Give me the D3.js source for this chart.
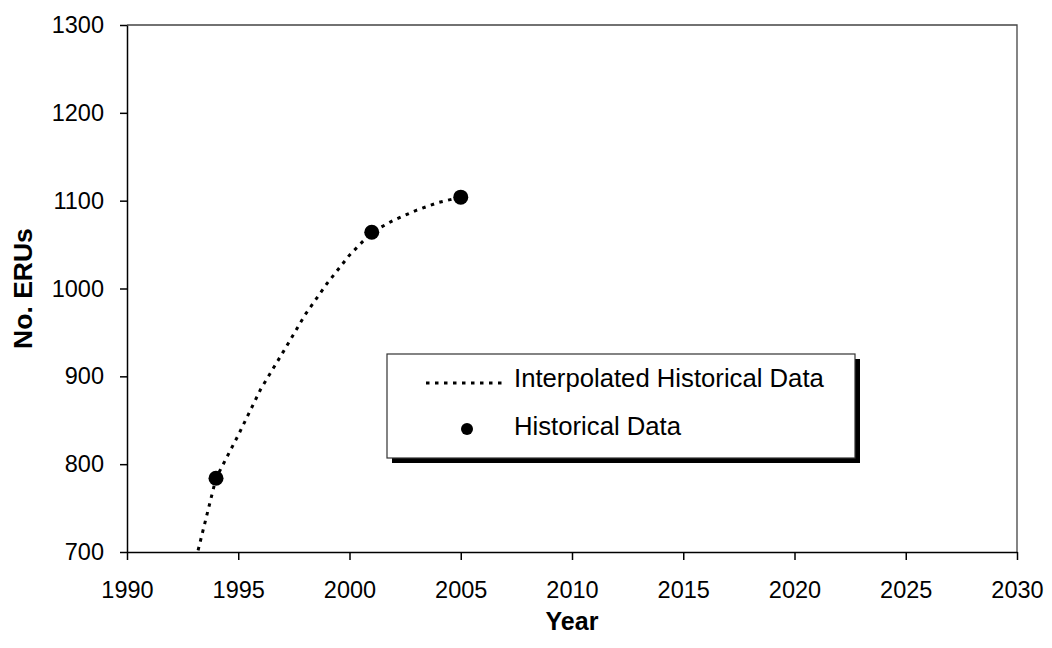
<!DOCTYPE html>
<html>
<head>
<meta charset="utf-8">
<script src="https://cdn.jsdelivr.net/npm/d3@7"></script>
<style>
  body { margin: 0; background: #fff; }
  text { font-family: "Liberation Sans", Arial, sans-serif; fill: #000; }
</style>
</head>
<body>
<script>
// interpolated yearly values
const interpYears = [1993, 1994, 1995, 1996, 1997, 1998, 1999, 2000, 2001, 2002, 2003, 2004, 2005];
const interpValues = [682, 784, 833, 885, 927, 970, 1006, 1038, 1064, 1078, 1089, 1098, 1104];

// historical observations
const histYears = [1994, 2001, 2005];
const histValues = [784, 1064, 1104];

const xTicks = [1990, 1995, 2000, 2005, 2010, 2015, 2020, 2025, 2030];
const yTicks = [700, 800, 900, 1000, 1100, 1200, 1300];

const width = 1052, height = 648;
const margin = {top: 25, right: 35, bottom: 96, left: 127};
const font = "Liberation Sans, Arial, sans-serif";

const svg = d3.select("body").append("svg")
    .attr("width", width)
    .attr("height", height);

const x = d3.scaleLinear()
    .domain([1990, 2030])
    .range([margin.left, width - margin.right]);

const y = d3.scaleLinear()
    .domain([700, 1300])
    .range([height - margin.bottom, margin.top]);

// frame top/right
svg.append("path")
    .attr("d", `M${x(1990)},${y(1300)}H${x(2030)}V${y(700)}`)
    .attr("fill", "none")
    .attr("stroke", "#444")
    .attr("stroke-width", 1.3);

const xAxis = g => g
    .attr("transform", `translate(0,${y(700)})`)
    .call(d3.axisBottom(x).tickValues(xTicks).tickFormat(d3.format("d")).tickSize(8).tickSizeOuter(0).tickPadding(21))
    .call(g => g.selectAll("path, line").attr("stroke", "#000").attr("stroke-width", 1.5))
    .call(g => g.selectAll("text").attr("font-size", 23.5).attr("font-family", font));

const yAxis = g => g
    .attr("transform", `translate(${x(1990)},0)`)
    .call(d3.axisLeft(y).tickValues(yTicks).tickFormat(d3.format("d")).tickSize(7).tickSizeOuter(0).tickPadding(16))
    .call(g => g.selectAll("path, line").attr("stroke", "#000").attr("stroke-width", 1.5))
    .call(g => g.selectAll("text").attr("font-size", 23.5).attr("font-family", font));

svg.append("g").call(xAxis);
svg.append("g").call(yAxis);

svg.append("defs").append("clipPath").attr("id", "plot")
  .append("rect")
    .attr("x", x(1990)).attr("y", y(1300))
    .attr("width", x(2030) - x(1990)).attr("height", y(700) - y(1300));

const line = d3.line()
    .x((d, i) => x(interpYears[i]))
    .y(d => y(d));

svg.append("path")
    .datum(interpValues)
    .attr("clip-path", "url(#plot)")
    .attr("d", line)
    .attr("fill", "none")
    .attr("stroke", "#000")
    .attr("stroke-width", 3)
    .attr("stroke-dasharray", "3.5,5.5");

svg.append("g")
  .selectAll("circle")
  .data(histValues)
  .join("circle")
    .attr("cx", (d, i) => x(histYears[i]))
    .attr("cy", d => y(d))
    .attr("r", 7.5)
    .attr("fill", "#000");

// axis titles
svg.append("text")
    .attr("x", (x(1990) + x(2030)) / 2)
    .attr("y", 630)
    .attr("text-anchor", "middle")
    .attr("font-size", 25)
    .attr("font-weight", "bold")
    .text("Year");

svg.append("text")
    .attr("transform", `translate(32,${(y(700) + y(1300)) / 2}) rotate(-90)`)
    .attr("text-anchor", "middle")
    .attr("font-size", 26.5)
    .attr("font-weight", "bold")
    .text("No. ERUs");

// legend
const lg = svg.append("g").attr("transform", "translate(387,354)");
lg.append("rect")
    .attr("x", 5).attr("y", 5).attr("width", 468).attr("height", 104)
    .attr("fill", "#000");
lg.append("rect")
    .attr("x", 0).attr("y", 0).attr("width", 468).attr("height", 104)
    .attr("fill", "#fff")
    .attr("stroke", "#333")
    .attr("stroke-width", 1.2);
lg.append("line")
    .attr("x1", 39).attr("x2", 116).attr("y1", 29).attr("y2", 29)
    .attr("stroke", "#000").attr("stroke-width", 3).attr("stroke-dasharray", "3.5,5.5");
lg.append("text")
    .attr("x", 127).attr("y", 33)
    .attr("font-size", 25.7)
    .text("Interpolated Historical Data");
lg.append("circle")
    .attr("cx", 80).attr("cy", 75).attr("r", 6).attr("fill", "#000");
lg.append("text")
    .attr("x", 127).attr("y", 81)
    .attr("font-size", 25.7)
    .text("Historical Data");
</script>
</body>
</html>
